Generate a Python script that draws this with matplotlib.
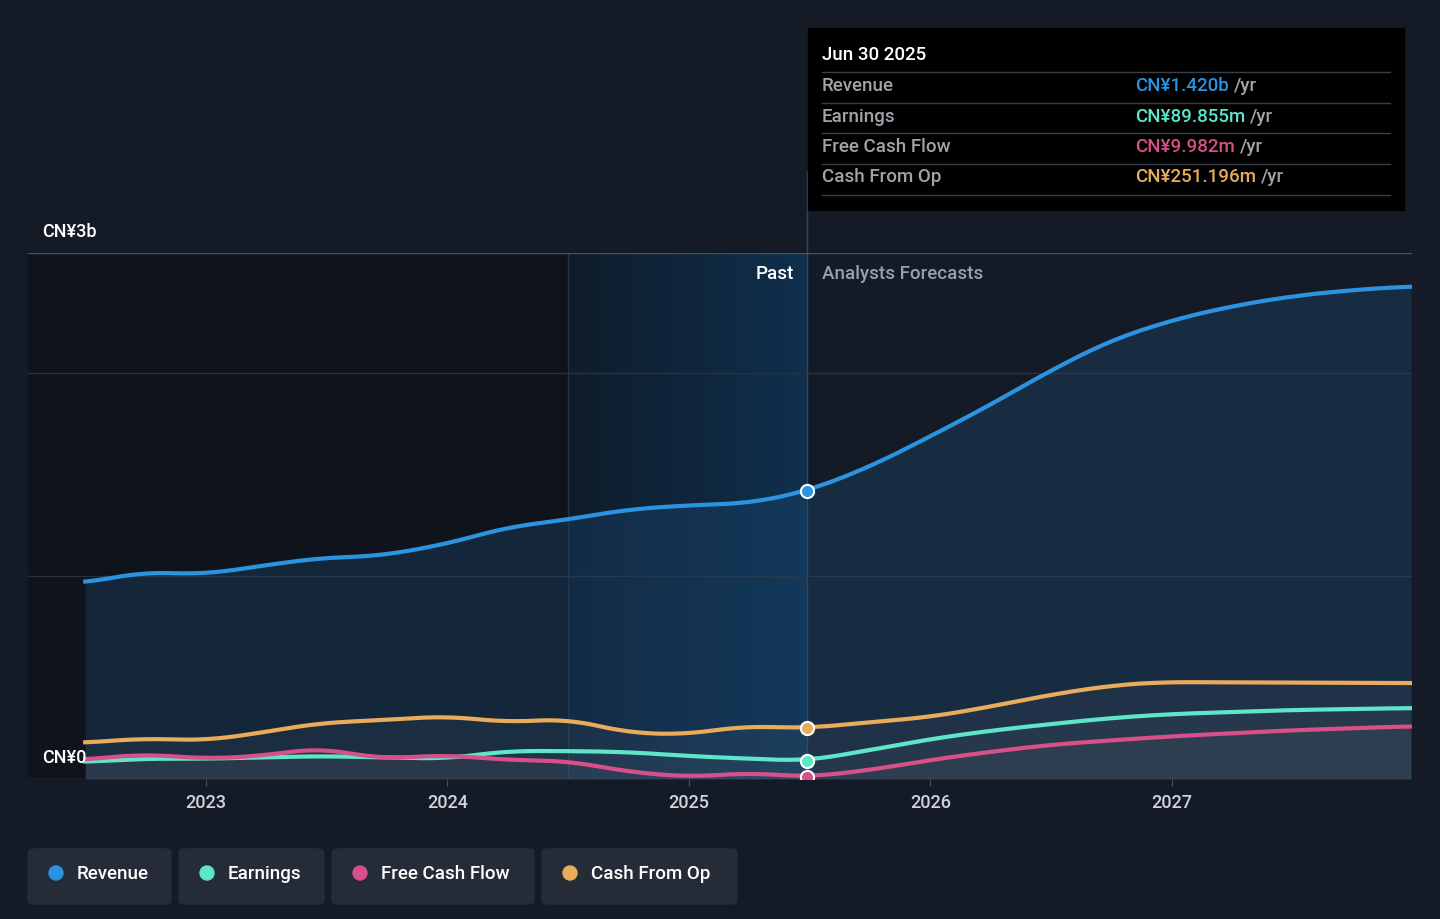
import matplotlib
matplotlib.use("Agg")
import matplotlib.pyplot as plt
import numpy as np
from matplotlib.patches import FancyBboxPatch, Rectangle

plt.rcParams['font.family'] = ['Roboto', 'DejaVu Sans']
plt.rcParams['font.weight'] = 'medium'

# decimal years and values in CN¥ billions
rev_x = [2022.50, 2022.73, 2023.00, 2023.22, 2023.47, 2023.72, 2024.00, 2024.24, 2024.50,
         2024.75, 2025.00, 2025.25, 2025.49, 2025.75, 2026.00, 2026.24, 2026.49, 2026.74,
         2026.99, 2027.24, 2027.49, 2027.73, 2027.99]
rev_y = [0.966, 1.02, 1.01, 1.05, 1.09, 1.10, 1.16, 1.24, 1.28, 1.33, 1.35, 1.36, 1.42,
         1.54, 1.69, 1.84, 2.01, 2.16, 2.26, 2.33, 2.38, 2.41, 2.43]
cfo_x = [2022.50, 2022.73, 2023.00, 2023.22, 2023.47, 2023.72, 2024.00, 2024.24, 2024.50,
         2024.75, 2025.00, 2025.21, 2025.49, 2025.75, 2026.00, 2026.24, 2026.49, 2026.74,
         2026.95, 2027.99]
cfo_y = [0.178, 0.20, 0.19, 0.227, 0.276, 0.29, 0.31, 0.28, 0.296, 0.227, 0.22, 0.26,
         0.251, 0.28, 0.306, 0.355, 0.414, 0.46, 0.478, 0.473]
ear_x = [2022.50, 2022.73, 2023.00, 2023.47, 2024.00, 2024.24, 2024.50, 2024.75, 2025.00,
         2025.25, 2025.49, 2025.75, 2026.00, 2026.24, 2026.49, 2026.74, 2026.99, 2027.49, 2027.99]
ear_y = [0.084, 0.10, 0.10, 0.113, 0.10, 0.138, 0.138, 0.133, 0.113, 0.10, 0.0899, 0.143,
         0.197, 0.237, 0.27, 0.30, 0.32, 0.34, 0.35]
fcf_x = [2022.50, 2022.73, 2023.00, 2023.22, 2023.47, 2023.72, 2024.00, 2024.24, 2024.50,
         2024.75, 2025.00, 2025.25, 2025.49, 2025.75, 2026.00, 2026.24, 2026.49, 2026.74,
         2026.99, 2027.49, 2027.99]
fcf_y = [0.094, 0.123, 0.10, 0.113, 0.153, 0.10, 0.118, 0.094, 0.089, 0.035, 0.01, 0.03,
         0.00998, 0.044, 0.094, 0.133, 0.168, 0.19, 0.21, 0.24, 0.26]

NOW = 2025.49
C_REV, C_EAR, C_FCF, C_CFO = "#2b93e0", "#5ee6c8", "#d94f8a", "#e8ac5a"
BG = "#151b26"


def smooth(x, y, n=400):
    xs = np.linspace(x[0], x[-1], n)
    ys = np.interp(xs, x, y)
    k = 9
    pad = np.pad(ys, k, mode="edge")
    ys = np.convolve(pad, np.ones(2 * k + 1) / (2 * k + 1), mode="same")[k:-k]
    return xs, ys


fig = plt.figure(figsize=(14.4, 9.19), dpi=100, facecolor=BG)
ax = fig.add_axes([28 / 1440, 140 / 919, 1384 / 1440, 526 / 919])
ax.set_facecolor(BG)
xmin, xmax = 2022.263, 2027.994
ymax = 2.594
ax.set_xlim(xmin, xmax)
ax.set_ylim(0, ymax)

# past shading
ax.axvspan(xmin, 2024.5, color="#0f131b", zorder=0)
grad = np.linspace(0, 1, 256).reshape(1, -1)
ax.imshow(grad, extent=[2024.5, NOW, 0, ymax], aspect="auto",
          cmap=matplotlib.colors.LinearSegmentedColormap.from_list("g", ["#0f1c2b", "#10304d"]), zorder=0.5)
ax.axvline(2024.5, color="#1f3448", lw=1, zorder=1)
ax.plot([NOW, NOW], [0, 3.0], color="#2a4a66", lw=1, zorder=1, clip_on=False)

for g in [1, 2]:
    ax.axhline(g, color="#2a313c", lw=1, zorder=1)
ax.axhline(ymax, color="#4a515c", lw=1, zorder=1)
ax.axhline(0, color="#4a515c", lw=1, zorder=1)

series = [(rev_x, rev_y, C_REV), (cfo_x, cfo_y, C_CFO), (ear_x, ear_y, C_EAR), (fcf_x, fcf_y, C_FCF)]
for i, (x, y, c) in enumerate(series):
    xs, ys = smooth(x, y)
    if i == 0:
        ax.fill_between(xs, ys, color="#1c4a75", alpha=0.35, lw=0, zorder=2)
    else:
        ax.fill_between(xs, ys, color="#8a8f99", alpha=0.07, lw=0, zorder=2)
    ax.plot(xs, ys, color=c, lw=3, zorder=3)
    ax.scatter([NOW], [np.interp(NOW, x, y)], s=90, color=c, edgecolor="white", lw=1.5, zorder=5)

for s in ax.spines.values():
    s.set_visible(False)
ax.set_yticks([])
ax.set_xticks([2023, 2024, 2025, 2026, 2027])
ax.set_xticklabels(["2023", "2024", "2025", "2026", "2027"], color="#d0d4da", fontsize=13)
ax.tick_params(axis="x", length=5, color="#4a515c", pad=6)

fig.text(42 / 1440, 1 - 232 / 919, "CN¥3b", color="white", fontsize=13, va="center")
fig.text(42 / 1440, 1 - 758 / 919, "CN¥0", color="white", fontsize=13, va="center")
fig.text(794 / 1440, 1 - 274 / 919, "Past", color="white", fontsize=13.5, va="center", ha="right")
fig.text(822 / 1440, 1 - 274 / 919, "Analysts Forecasts", color="#9aa0a8", fontsize=13.5, va="center")

# tooltip
fig.patches.append(Rectangle((808 / 1440, 1 - 210 / 919), 596 / 1440, 182 / 919,
                             transform=fig.transFigure, color="black", zorder=10))
fig.text(822 / 1440, 1 - 55 / 919, "Jun 30 2025", color="white", fontsize=13.5, va="center", zorder=11)
rows = [("Revenue", "CN¥1.420b", C_REV), ("Earnings", "CN¥89.855m", C_EAR),
        ("Free Cash Flow", "CN¥9.982m", C_FCF), ("Cash From Op", "CN¥251.196m", C_CFO)]
fig.canvas.draw()
for i, (lab, val, c) in enumerate(rows):
    yy = 1 - (86 + 30.5 * i) / 919
    fig.text(822 / 1440, yy, lab, color="#a0a4aa", fontsize=13.5, va="center", zorder=11)
    t = fig.text(1135 / 1440, yy, val, color=c, fontsize=13.5, va="center", zorder=11)
    bb = t.get_window_extent(renderer=fig.canvas.get_renderer())
    fig.text(bb.x1 / 1440 + 5 / 1440, yy, "/yr", color="#a0a4aa", fontsize=13.5, va="center", zorder=11)
    ly = 1 - (72 + 30.5 * i) / 919
    fig.lines.append(plt.Line2D([822 / 1440, 1390 / 1440], [ly, ly], transform=fig.transFigure,
                                color="#3a3f46", lw=1, zorder=11))
fig.lines.append(plt.Line2D([822 / 1440, 1390 / 1440], [1 - 195 / 919] * 2, transform=fig.transFigure,
                            color="#3a3f46", lw=1, zorder=11))

# legend buttons
legend = [("Revenue", C_REV, 28, 143), ("Earnings", C_EAR, 179, 145), ("Free Cash Flow", C_FCF, 332, 202),
          ("Cash From Op", C_CFO, 542, 195)]
for lab, c, x0, w in legend:
    fig.patches.append(FancyBboxPatch((x0 / 1440, 1 - 904 / 919), w / 1440, 55 / 919,
                                      boxstyle="round,pad=0,rounding_size=0.004", transform=fig.transFigure,
                                      color="#252c38", zorder=10))
    fig.patches.append(matplotlib.patches.Ellipse(((x0 + 28) / 1440, 1 - 873 / 919), 14 / 1440, 14 / 919,
                                                  transform=fig.transFigure, color=c, zorder=11))
    fig.text((x0 + 49) / 1440, 1 - 874 / 919, lab, color="white", fontsize=13.5, va="center", zorder=11)

fig.savefig("out.png", dpi=100, facecolor=BG)
